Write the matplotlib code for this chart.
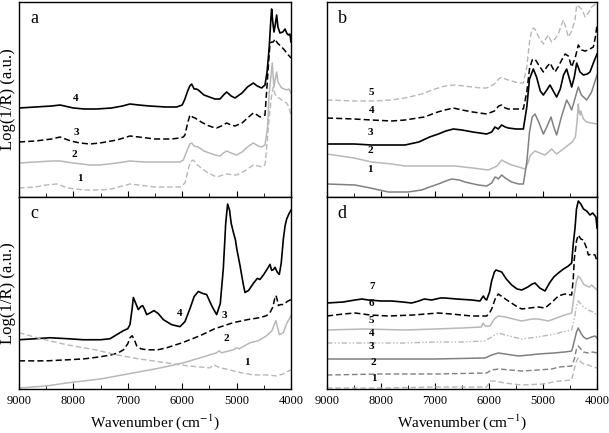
import matplotlib
matplotlib.use("Agg")
import matplotlib.pyplot as plt
from matplotlib.ticker import MultipleLocator

plt.rcParams["font.family"] = ["Liberation Serif", "DejaVu Serif"]
plt.rcParams["mathtext.fontset"] = "stix"

# panel a
A4_WN = [9000, 8700, 8400, 8246, 8000, 7800, 7572, 7300, 7100, 6960, 6800, 6600, 6300,
         6102, 6000, 5950, 5900, 5860, 5826, 5780, 5740, 5704, 5600, 5400, 5305, 5240,
         5183, 5100, 5030, 4900, 4800, 4693, 4620, 4540, 4478, 4440, 4400, 4370, 4356,
         4335, 4313, 4290, 4264, 4240, 4203, 4150, 4110, 4080, 4049, 4020, 4000]
A4_Y = [89, 90, 91, 92, 89, 88, 88, 89, 91, 93, 92, 91, 90,
        90, 92, 98, 106, 111, 113, 108, 108, 107, 102, 98, 98, 102,
        105, 101, 99, 104, 110, 114, 111, 109, 112, 125, 150, 178, 188,
        175, 165, 172, 182, 170, 164, 165, 168, 164, 162, 163, 155]
A3_WN = [9000, 8700, 8400, 8246, 8050, 7879, 7700, 7511, 7200, 6960, 6800, 6500, 6200,
         6041, 5980, 5949, 5900, 5857, 5810, 5765, 5650, 5551, 5450, 5367, 5280, 5183,
         5100, 5030, 4900, 4800, 4693, 4620, 4570, 4478, 4430, 4386, 4350, 4325, 4294,
         4250, 4172, 4120, 4080, 4000]
A3_Y = [55, 56, 58, 60, 56, 54, 53, 54, 57, 61, 60, 58, 58,
        59, 60, 62, 74, 82, 80, 79, 75, 72, 70, 69, 71, 74,
        72, 71, 74, 79, 84, 82, 80, 82, 120, 154, 155, 155, 158,
        154, 150, 147, 144, 139]
A2_WN = [9000, 8700, 8400, 8246, 8000, 7700, 7511, 7200, 6960, 6700, 6500, 6200, 6041,
         5979, 5900, 5860, 5826, 5780, 5704, 5600, 5400, 5305, 5240, 5183, 5100, 4999,
         4900, 4800, 4693, 4600, 4540, 4478, 4430, 4400, 4370, 4344, 4325, 4313, 4290,
         4264, 4240, 4172, 4120, 4080, 4040, 4000]
A2_Y = [34, 35, 36, 36, 34, 32, 32, 34, 36, 35, 35, 35, 35,
        37, 48, 53, 54, 51, 50, 46, 42, 41, 44, 46, 44, 42,
        45, 50, 54, 51, 50, 52, 70, 105, 120, 134, 118, 110, 118,
        125, 115, 109, 108, 107, 108, 104]
A1_WN = [9000, 8700, 8500, 8308, 8100, 7817, 7500, 7300, 7100, 6960, 6800, 6500, 6200,
         6041, 5949, 5880, 5830, 5796, 5740, 5673, 5550, 5450, 5367, 5250, 5183, 5050,
         4999, 4850, 4693, 4600, 4540, 4478, 4430, 4400, 4360, 4325, 4295, 4264, 4220,
         4172, 4120, 4080, 4040, 4000]
A1_Y = [9, 10, 12, 13, 9, 7, 7, 8, 11, 13, 12, 10, 10,
        10, 14, 30, 36, 37, 33, 30, 25, 22, 20, 22, 23, 22,
        22, 26, 32, 31, 30, 32, 60, 80, 100, 110, 103, 100, 99,
        97, 95, 94, 90, 82]

# panel b
B5_WN = [9000, 8500, 8173, 7800, 7556, 7400, 7247, 7000, 6815, 6630, 6450, 6321, 6150,
         6043, 5900, 5820, 5765, 5700, 5580, 5450, 5364, 5300, 5250, 5210, 5180, 5148,
         5080, 4993, 4950, 4901, 4870, 4839, 4780, 4716, 4660, 4623, 4580, 4531, 4470,
         4407, 4376, 4330, 4284, 4250, 4222, 4160, 4099, 4050, 4000]
B5_Y = [97, 96, 96, 97, 99, 101, 103, 108, 111, 112, 111, 110, 109,
        109, 113, 118, 120, 118, 116, 114, 114, 130, 155, 167, 169, 168,
        160, 153, 158, 162, 158, 155, 158, 163, 172, 177, 170, 160, 166,
        177, 192, 190, 188, 184, 180, 184, 190, 192, 195]
B4_WN = [9000, 8500, 8173, 7800, 7556, 7200, 6950, 6815, 6660, 6500, 6300, 6043, 5900,
         5820, 5765, 5700, 5642, 5500, 5364, 5300, 5250, 5200, 5148, 5080, 4993, 4930,
         4870, 4820, 4778, 4720, 4654, 4590, 4531, 4469, 4400, 4346, 4300, 4284, 4220,
         4160, 4100, 4068, 4030, 4000]
B4_Y = [79, 78, 77, 76, 77, 80, 85, 87, 89, 87, 85, 83, 86,
        91, 92, 89, 88, 88, 88, 105, 128, 137, 138, 132, 125, 130,
        134, 129, 125, 130, 137, 143, 141, 130, 140, 152, 148, 147, 146,
        147, 149, 150, 160, 172]
B3_WN = [9000, 8500, 8173, 7800, 7556, 7300, 7100, 6938, 6800, 6660, 6500, 6300, 6043,
         5950, 5889, 5830, 5765, 5700, 5642, 5500, 5364, 5300, 5250, 5179, 5120, 5050,
         4993, 4930, 4870, 4810, 4747, 4680, 4620, 4562, 4510, 4469, 4420, 4376, 4315,
         4250, 4180, 4130, 4060, 4000]
B3_Y = [53, 53, 52, 52, 52, 55, 60, 63, 66, 68, 67, 65, 63,
        65, 70, 68, 72, 70, 69, 68, 68, 90, 118, 128, 120, 106,
        102, 107, 112, 106, 100, 108, 122, 128, 118, 110, 120, 134, 125,
        122, 123, 125, 135, 143]
B2_WN = [9000, 8500, 8173, 7800, 7556, 7000, 6630, 6300, 6012, 5850, 5765, 5700, 5580,
         5450, 5333, 5280, 5240, 5210, 5148, 5060, 4963, 4900, 4839, 4790, 4747, 4650,
         4531, 4460, 4400, 4370, 4346, 4330, 4315, 4300, 4284, 4250, 4191, 4100, 4000]
B2_Y = [43, 39, 35, 33, 31, 31, 31, 29, 27, 31, 37, 35, 32,
        30, 28, 34, 41, 43, 46, 44, 42, 45, 48, 45, 43, 47,
        52, 55, 60, 75, 93, 85, 82, 86, 83, 78, 75, 74, 73]
B1_WN = [9000, 8481, 8200, 7864, 7500, 7247, 7100, 6938, 6800, 6691, 6550, 6444, 6200,
         6043, 5950, 5889, 5850, 5827, 5765, 5700, 5580, 5450, 5364, 5300, 5250, 5200,
         5148, 5080, 4993, 4930, 4852, 4800, 4747, 4660, 4562, 4510, 4469, 4400, 4346,
         4290, 4191, 4100, 4000]
B1_Y = [13, 12, 9, 5, 5, 7, 10, 13, 16, 18, 17, 15, 12,
        11, 14, 20, 19, 18, 22, 19, 15, 13, 13, 35, 65, 80,
        83, 75, 63, 70, 80, 70, 62, 80, 97, 92, 87, 100, 110,
        102, 97, 105, 122]

# panel c
C4_WN = [9000, 8700, 8430, 8100, 7817, 7500, 7327, 7174, 7082, 7000, 6960, 6920, 6898,
         6860, 6807, 6760, 6727, 6690, 6653, 6580, 6519, 6440, 6347, 6194, 6041, 5950,
         5857, 5780, 5704, 5620, 5551, 5450, 5367, 5300, 5244, 5200, 5165, 5130, 5100,
         5060, 5020, 4999, 4938, 4880, 4846, 4780, 4693, 4620, 4570, 4500, 4430, 4386,
         4356, 4320, 4294, 4250, 4215, 4180, 4141, 4110, 4080, 4040, 4000]
C4_Y = [49, 50, 51, 50, 49, 49, 50, 55, 58, 60, 64, 80, 91,
        86, 79, 82, 83, 79, 74, 76, 78, 75, 69, 64, 62, 67,
        80, 92, 97, 95, 94, 82, 74, 85, 120, 165, 184, 178, 165,
        156, 148, 140, 123, 105, 96, 98, 105, 110, 109, 114, 120, 124,
        118, 119, 121, 116, 114, 125, 149, 162, 169, 174, 178]
C3_WN = [9000, 8500, 8124, 7800, 7511, 7300, 7174, 7080, 7000, 6960, 6920, 6880, 6837,
         6760, 6653, 6450, 6286, 6000, 5673, 5400, 5060, 4800, 4570, 4450, 4386, 4330,
         4300, 4276, 4250, 4233, 4190, 4141, 4070, 4000]
C3_Y = [28, 28, 29, 30, 32, 34, 36, 39, 45, 51, 53, 49, 43,
        40, 39, 39, 41, 46, 53, 60, 66, 69, 71, 73, 76, 82,
        90, 93, 88, 83, 84, 84, 87, 89]
C2_WN = [9000, 8500, 8124, 7500, 6898, 6400, 5979, 5673, 5367, 5320, 5280, 5060, 5000,
         4950, 4754, 4600, 4448, 4350, 4300, 4276, 4250, 4215, 4180, 4141, 4080, 4000]
C2_Y = [1, 3, 6, 10, 16, 21, 26, 31, 36, 38, 36, 39, 41,
        40, 46, 48, 53, 58, 65, 68, 62, 54, 55, 56, 65, 73]
C1_WN = [9000, 8600, 8124, 7600, 7205, 6800, 6286, 5900, 5489, 5428, 5380, 5300, 5200,
         5060, 4900, 4693, 4450, 4264, 4200, 4141, 4080, 4000]
C1_Y = [56, 50, 44, 39, 34, 30, 26, 23, 21, 24, 23, 21, 20,
        18, 16, 14, 14, 13, 14, 15, 17, 19]

# panel d
D7_WN = [9000, 8700, 8481, 8350, 8235, 8000, 7802, 7600, 7432, 7300, 7200, 7062, 6900,
         6815, 6600, 6321, 6167, 6130, 6105, 6070, 6043, 5990, 5951, 5900, 5870, 5820,
         5765, 5680, 5580, 5480, 5395, 5280, 5200, 5148, 5060, 4963, 4880, 4800, 4716,
         4620, 4531, 4469, 4440, 4407, 4380, 4346, 4300, 4250, 4191, 4130, 4080, 4050,
         4020, 4000]
D7_Y = [86, 87, 89, 90, 89, 88, 88, 87, 86, 88, 90, 89, 91,
        91, 90, 89, 88, 91, 93, 90, 89, 97, 108, 117, 119, 118,
        117, 110, 104, 100, 99, 102, 105, 106, 101, 98, 106, 112, 116,
        120, 123, 126, 145, 161, 180, 188, 185, 180, 178, 174, 176, 174,
        172, 161]
D6_WN = [9000, 8700, 8481, 8200, 7864, 7400, 6938, 6700, 6321, 6043, 5990, 5951, 5880,
         5827, 5750, 5642, 5500, 5395, 5250, 5086, 4963, 4850, 4716, 4600, 4469, 4440,
         4420, 4380, 4346, 4300, 4253, 4200, 4160, 4100, 4037, 4000]
D6_Y = [73, 75, 76, 74, 73, 74, 76, 75, 73, 73, 76, 80, 91,
        95, 92, 88, 83, 80, 81, 82, 81, 86, 93, 95, 94, 110,
        130, 148, 154, 150, 149, 142, 134, 135, 134, 128]
D5_WN = [9000, 8300, 7556, 7000, 6500, 6140, 6110, 6074, 5981, 5900, 5827, 5700, 5550,
         5395, 5200, 5086, 4901, 4700, 4600, 4469, 4420, 4380, 4346, 4300, 4250, 4191,
         4140, 4099, 4060, 4000]
D5_Y = [59, 60, 59, 60, 61, 62, 66, 63, 63, 70, 73, 72, 70,
        68, 70, 70, 68, 72, 74, 76, 95, 108, 113, 110, 105, 103,
        102, 104, 102, 99]
D4_WN = [9000, 8300, 7556, 7000, 6500, 6074, 5950, 5827, 5700, 5550, 5395, 5100, 4778,
         4650, 4550, 4469, 4420, 4380, 4346, 4300, 4250, 4160, 4080, 4000]
D4_Y = [46, 46, 46, 47, 47, 48, 52, 56, 54, 52, 50, 52, 55,
        57, 58, 59, 70, 83, 88, 85, 82, 79, 77, 74]
D3_WN = [9000, 8000, 7000, 6074, 5950, 5827, 5700, 5457, 5250, 5086, 4800, 4600, 4469,
         4420, 4380, 4346, 4300, 4250, 4191, 4100, 4037, 4000]
D3_Y = [30, 30, 30, 31, 34, 36, 35, 33, 34, 35, 36, 37, 38,
        48, 57, 61, 56, 52, 50, 52, 53, 51]
D2_WN = [9000, 8000, 7000, 6043, 5950, 5827, 5600, 5395, 5100, 4839, 4700, 4469, 4420,
         4380, 4346, 4300, 4250, 4160, 4080, 4000]
D2_Y = [14, 15, 15, 16, 19, 20, 19, 18, 19, 20, 22, 23, 30,
        40, 43, 40, 37, 36, 37, 36]
D1_WN = [9000, 8000, 7000, 6043, 5981, 5900, 5704, 5550, 5395, 5000, 4700, 4469, 4420,
         4380, 4346, 4300, 4250, 4160, 4080, 4000]
D1_Y = [1, 1, 2, 2, 8, 8, 6, 5, 4, 5, 8, 9, 20,
        28, 31, 27, 25, 24, 22, 21]

BLACK = "black"
LIGHT = "#b8b8b8"
MID = "#808080"
DASH = (0, (4, 2))
DASH_DOT_DOT = (0, (4, 1.5, 1, 1.5, 1, 1.5))

fig = plt.figure(figsize=(6.09, 4.33), dpi=100)
ax_a = fig.add_axes([19 / 609, 1 - 197 / 433, 272 / 609, 195 / 433])
ax_b = fig.add_axes([327 / 609, 1 - 197 / 433, 270 / 609, 195 / 433])
ax_c = fig.add_axes([19 / 609, 1 - 389 / 433, 272 / 609, 192 / 433])
ax_d = fig.add_axes([327 / 609, 1 - 389 / 433, 270 / 609, 192 / 433])

panels = [
    (ax_a, "a", 195, [
        (A4_WN, A4_Y, BLACK, "-", 1.2, "4", 7952, 94),
        (A3_WN, A3_Y, BLACK, DASH, 1.1, "3", 7952, 60),
        (A2_WN, A2_Y, LIGHT, "-", 1.1, "2", 7989, 38),
        (A1_WN, A1_Y, LIGHT, DASH, 1.0, "1", 7879, 14),
    ]),
    (ax_b, "b", 195, [
        (B5_WN, B5_Y, LIGHT, DASH, 1.0, "5", 8173, 100),
        (B4_WN, B4_Y, BLACK, DASH, 1.1, "4", 8173, 82),
        (B3_WN, B3_Y, BLACK, "-", 1.2, "3", 8200, 60),
        (B2_WN, B2_Y, LIGHT, "-", 1.1, "2", 8200, 42),
        (B1_WN, B1_Y, MID, "-", 1.1, "1", 8200, 23),
    ]),
    (ax_c, "c", 191, [
        (C4_WN, C4_Y, BLACK, "-", 1.2, "4", 6053, 71),
        (C3_WN, C3_Y, BLACK, DASH, 1.1, "3", 5226, 69),
        (C2_WN, C2_Y, LIGHT, "-", 1.1, "2", 5195, 46),
        (C1_WN, C1_Y, LIGHT, DASH, 1.0, "1", 4815, 22),
    ]),
    (ax_d, "d", 192, [
        (D7_WN, D7_Y, BLACK, "-", 1.2, "7", 8173, 98),
        (D6_WN, D6_Y, BLACK, DASH, 1.1, "6", 8173, 81),
        (D5_WN, D5_Y, LIGHT, "-", 1.1, "5", 8173, 64),
        (D4_WN, D4_Y, LIGHT, DASH_DOT_DOT, 1.0, "4", 8173, 51),
        (D3_WN, D3_Y, MID, "-", 1.1, "3", 8173, 38),
        (D2_WN, D2_Y, MID, DASH, 1.0, "2", 8140, 22),
        (D1_WN, D1_Y, LIGHT, DASH, 1.0, "1", 8140, 6),
    ]),
]

for ax, letter, top, curves in panels:
    for wn, y, color, ls, lw, label, lx, ly in curves:
        ax.plot(wn, y, color=color, linestyle=ls, linewidth=lw)
        ax.text(lx, ly, label, fontsize=8, fontweight="bold",
                ha="center", va="bottom")
    ax.set_xlim(9000, 4000)
    ax.set_ylim(0, top)
    ax.set_yticks([])
    ax.xaxis.set_major_locator(MultipleLocator(1000))
    ax.xaxis.set_minor_locator(MultipleLocator(500))
    ax.tick_params(axis="x", which="both", direction="in", labelsize=9, pad=4)
    ax.tick_params(axis="x", which="major", length=4)
    ax.tick_params(axis="x", which="minor", length=3)
    ax.text(0.04, 0.96, letter, transform=ax.transAxes, fontsize=13,
            ha="left", va="top")
    for spine in ax.spines.values():
        spine.set_linewidth(1.0)

for ax in (ax_a, ax_b):
    ax.tick_params(axis="x", labelbottom=False)
for ax in (ax_a, ax_c):
    ax.set_ylabel("Log(1/R) (a.u.)", fontsize=12, labelpad=2)
for ax in (ax_c, ax_d):
    ax.set_xlabel("Wavenumber (cm$^{-1}$)", fontsize=11, labelpad=4)

fig.savefig("out.png", dpi=100)
